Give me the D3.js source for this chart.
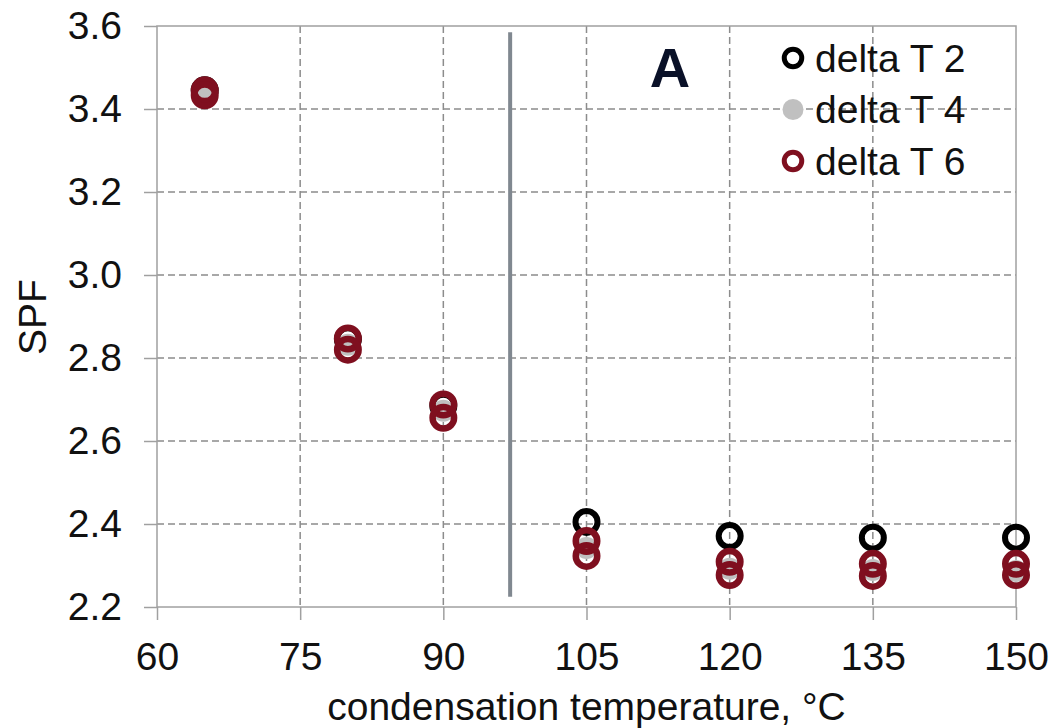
<!DOCTYPE html>
<html>
<head>
<meta charset="utf-8">
<script src="https://cdn.jsdelivr.net/npm/d3@7"></script>
<style>
  body { margin: 0; background: #fff; }
  text { font-family: Arial, 'Liberation Sans', sans-serif; }
</style>
</head>
<body>
<div id="svg"></div>
<script>
// values
let temps = [65, 80, 90, 105, 120, 135, 150]
let deltaT2 = [3.445, 2.845, 2.685, 2.405, 2.371, 2.367, 2.367]
let deltaT4 = [3.440, 2.832, 2.673, 2.342, 2.292, 2.289, 2.287]
let deltaT6 = [3.433, 2.820, 2.656, 2.323, 2.277, 2.275, 2.277]
// second dark red ring visible in every stack (no legend entry)
let redUpper = [3.445, 2.847, 2.688, 2.359, 2.309, 2.304, 2.304]
let xTicks = [60, 75, 90, 105, 120, 135, 150]
let yTicks = [2.2, 2.4, 2.6, 2.8, 3.0, 3.2, 3.4, 3.6]
let legendLabels = ['delta T 2', 'delta T 4', 'delta T 6']
let boundaryTemp = 97
let boundarySpan = [2.225, 3.585]

let margin = {top: 26, right: 48, bottom: 121, left: 157}
let width = 1064 - margin.left - margin.right, height = 728 - margin.top - margin.bottom

let red = '#7f0f1f', grey = '#c0c0c0', gridCol = '#8c8c8c', frameCol = '#a0a0a0'
let fontSize = '39px'

let svg = d3.select('#svg')
.append('svg')
.attr('width', 1064)
.attr('height', 728)

let xScale = d3.scaleLinear()
.domain([60, 150])
.range([margin.left, margin.left + width])

let yScale = d3.scaleLinear()
.domain([2.2, 3.6])
.range([margin.top + height, margin.top])

// grid
svg.append('g')
.selectAll('line')
.data(yTicks.slice(1, -1))
.join('line')
.attr('x1', margin.left).attr('x2', margin.left + width)
.attr('y1', d => yScale(d)).attr('y2', d => yScale(d))
.style('stroke', gridCol).style('stroke-width', 1.5).style('stroke-dasharray', '7,4')

svg.append('g')
.selectAll('line')
.data(xTicks.slice(1, -1))
.join('line')
.attr('y1', margin.top).attr('y2', margin.top + height)
.attr('x1', d => xScale(d)).attr('x2', d => xScale(d))
.style('stroke', gridCol).style('stroke-width', 1.5).style('stroke-dasharray', '7,4')

// frame
svg.append('rect')
.attr('x', margin.left).attr('y', margin.top)
.attr('width', width).attr('height', height)
.style('fill', 'none').style('stroke', frameCol).style('stroke-width', 1.5)

// axes
let yAxis = svg.append('g')
.attr('transform', `translate(${margin.left}, 0)`)
.call(d3.axisLeft(yScale).tickValues(yTicks).tickFormat(d3.format('.1f')).tickSize(13).tickPadding(22))

let xAxis = svg.append('g')
.attr('transform', `translate(0, ${margin.top + height})`)
.call(d3.axisBottom(xScale).tickValues(xTicks).tickSize(13).tickPadding(22))

for (let ax of [xAxis, yAxis]) {
	ax.select('.domain').remove()
	ax.selectAll('line').style('stroke', frameCol).style('stroke-width', 1.5)
	ax.selectAll('text')
	.style('font-size', fontSize)
	.style('fill', '#111')
	.style('font-family', "Arial, 'Liberation Sans', sans-serif")
}

// boundary line
svg.append('line')
.attr('x1', xScale(boundaryTemp)).attr('x2', xScale(boundaryTemp))
.attr('y1', yScale(boundarySpan[1])).attr('y2', yScale(boundarySpan[0]))
.style('stroke', '#808890').style('stroke-width', 4)

// points
let pts = arr => temps.map((t, i) => ({x: t, y: arr[i]}))

svg.append('g')
.selectAll('circle')
.data(pts(deltaT2))
.join('circle')
.attr('cx', d => xScale(d.x)).attr('cy', d => yScale(d.y))
.attr('r', 11)
.style('fill', 'none').style('stroke', '#000').style('stroke-width', 6)

svg.append('g')
.selectAll('circle')
.data(pts(deltaT4))
.join('circle')
.attr('cx', d => xScale(d.x)).attr('cy', d => yScale(d.y))
.attr('r', 11)
.style('fill', grey)

for (let s of [redUpper, deltaT6]) {
	svg.append('g')
	.selectAll('circle')
	.data(pts(s))
	.join('circle')
	.attr('cx', d => xScale(d.x)).attr('cy', d => yScale(d.y))
	.attr('r', 10.75)
	.style('fill', 'none').style('stroke', red).style('stroke-width', 6.5)
}

// axis titles
svg.append('text')
.text('SPF')
.attr('transform', `translate(46, 317)rotate(-90)`)
.style('text-anchor', 'middle')
.style('font-size', fontSize)
.style('fill', '#111')

svg.append('text')
.text('condensation temperature, °C')
.attr('x', margin.left + width / 2)
.attr('y', 720)
.style('text-anchor', 'middle')
.style('font-size', fontSize)
.style('fill', '#111')

// panel letter
svg.append('text')
.text('A')
.attr('x', 670)
.attr('y', 87)
.style('text-anchor', 'middle')
.style('font-size', '56px')
.style('font-weight', 'bold')
.style('fill', '#0a1128')

// legend
let legend = svg.selectAll('.legend')
.data(legendLabels)
.join('g')
.attr('class', 'legend')
.attr('transform', (d, i) => `translate(793, ${58 + i * 51.5})`)

legend.append('circle')
.attr('r', (d, i) => i == 1 ? 10.5 : 8.75)
.style('fill', (d, i) => i == 1 ? grey : 'none')
.style('stroke', (d, i) => i == 0 ? '#000' : i == 2 ? red : 'none')
.style('stroke-width', 5)

legend.append('text')
.text(d => d)
.attr('x', 22)
.attr('dy', '0.35em')
.style('font-size', fontSize)
.style('fill', '#111')
</script>
</body>
</html>
